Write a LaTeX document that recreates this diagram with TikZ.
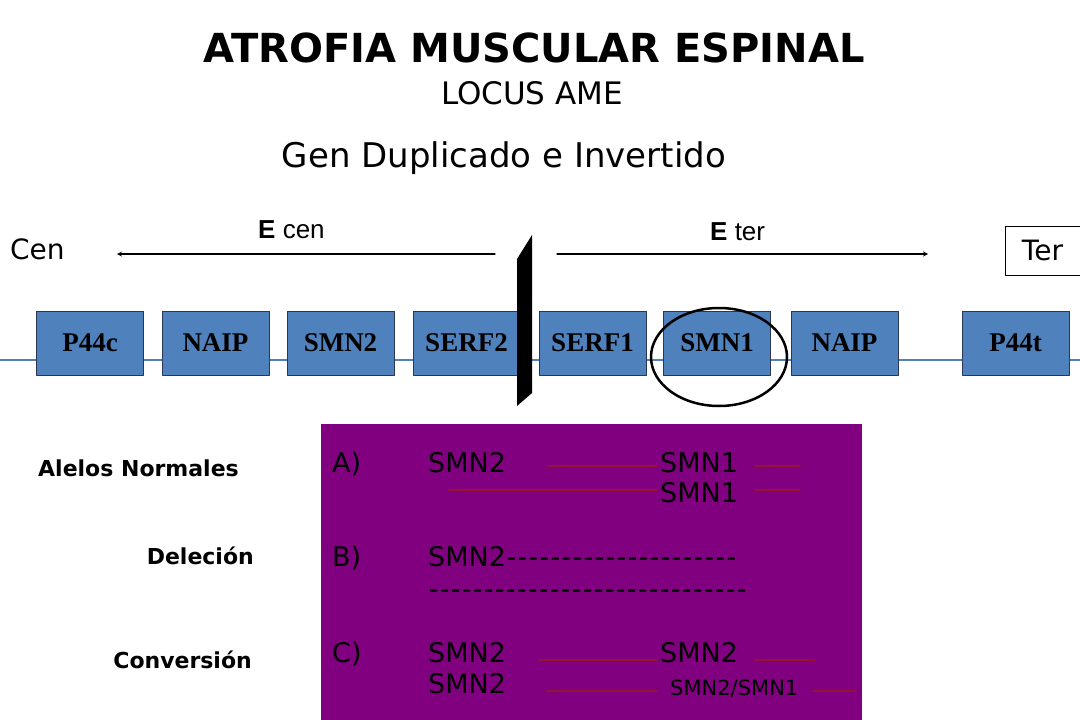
\documentclass[tikz,border=0pt]{standalone}
\usepackage{fontspec}
\setmainfont{DejaVu Sans}
\newfontfamily\timesbf{Liberation Serif}
\newfontfamily\arialf{Liberation Sans}
\newcommand{\fsz}[1]{\fontsize{#1}{#1}\selectfont}
\newcommand{\hy}{\makebox[11pt]{-}}
\newcommand{\hyrow}[1]{\foreach \k in {1,...,#1}{\hy}}
\definecolor{genblue}{RGB}{79,129,189}
\definecolor{genedge}{RGB}{40,55,85}
\definecolor{purplebg}{RGB}{128,0,128}
\definecolor{redln}{RGB}{150,20,50}
\begin{document}
\begin{tikzpicture}[x=1pt,y=-1pt,>=stealth,line join=round,line cap=round,
	gene/.style={draw=genedge,line width=1pt,fill=genblue,minimum width=107pt,minimum height=64pt,inner sep=0pt,font=\timesbf\bfseries\fsz{27}},
	lab/.style={inner sep=0pt,anchor=base west},
	smn/.style={lab,font=\fsz{27}}]
	\useasboundingbox (0,0) rectangle (1080,720);
	\fill[white] (0,0) rectangle (1080,720);
	% titulo
	\node[inner sep=0pt,anchor=base] (title) at (534,62) {\bfseries\fsz{40}ATROFIA MUSCULAR ESPINAL};
	\node[inner sep=0pt,anchor=base] (locus) at (532,104) {\fsz{31}LOCUS AME};
	\node[inner sep=0pt,anchor=base] (gen) at (504,167) {\fsz{34}Gen Duplicado e Invertido};
	% cen / ter
	\node[lab] (cen) at (10,259) {\fsz{28}Cen};
	\node[lab] (ecen) at (258,238) {\arialf\fsz{26}\textbf{E} cen};
	\node[lab] (eter) at (710,240) {\arialf\fsz{26}\textbf{E} ter};
	\node[draw,line width=1pt,minimum width=75pt,minimum height=49pt,inner sep=0pt] (ter) at (1042.5,250.5) {\fsz{28}Ter};
	\path
	(117,254) coordinate (cenL)
	(495,254) coordinate (cenR)
	(557,254) coordinate (terL)
	(928,254) coordinate (terR);
	\draw[->,line width=1.2pt] (cenR) -- (cenL);
	\draw[->,line width=1.2pt] (terL) -- (terR);
	% cromosoma
	\draw[line width=2.5pt,genblue,line cap=butt] (0,360) -- (1080,360);
	\foreach \x/\t/\n in {90/P44c/pfc,215.5/NAIP/naipc,340.5/SMN2/smnb,466.5/SERF2/serfb,592.5/SERF1/serfa,717/SMN1/smna,844.5/NAIP/naipt,1015.5/P44t/pft}{
		\node[gene] (\n) at (\x,343) {\t};
	}
	\draw[line width=2.5pt] (719,357) ellipse (68pt and 49pt);
	\fill (517,259) -- (532,235) -- (532,393) -- (517,406) -- cycle;
	% alelos
	\node[lab] (alelos) at (38,476) {\bfseries\fsz{22}Alelos Normales};
	\node[lab,anchor=base east] (delecion) at (254,564) {\bfseries\fsz{22}Deleción};
	\node[lab,anchor=base east] (conversion) at (252,668) {\bfseries\fsz{22}Conversión};
	\fill[purplebg] (321,424) rectangle (862,720);
	\foreach \y/\l/\n in {472/A/a,566/B/b,662/C/c}{
		\node[smn] (lbl\n) at (332,\y) {\l)};
	}
	\node[smn] (a1) at (428,472) {SMN2};
	\node[smn] (a2) at (660,472) {SMN1};
	\node[smn] (a3) at (660,502) {SMN1};
	\node[smn] (b1) at (428,566) {SMN2\hyrow{21}};
	\node[smn] (b2) at (428,598) {\hyrow{29}};
	\node[smn] (c1) at (428,662) {SMN2};
	\node[smn] (c2) at (660,662) {SMN2};
	\node[smn] (c3) at (428,693) {SMN2};
	\node[lab] (c4) at (670,695) {\fsz{21}SMN2/SMN1};
	\foreach \a/\b/\y in {548/657/466,755/800/466,449/657/490,755/800/490,539/657/660,755/815/660,547/657/691,813/855/691}{
		\draw[redln,line width=1.5pt] (\a,\y) -- (\b,\y);
	}
\end{tikzpicture}
\end{document}
